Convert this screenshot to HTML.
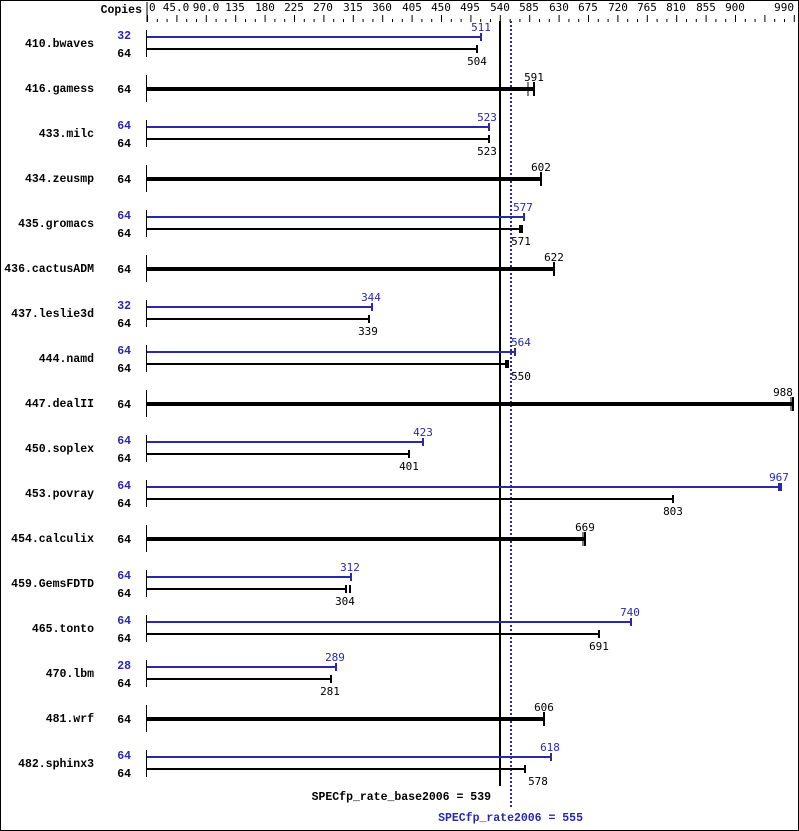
<!DOCTYPE html>
<html><head><meta charset="utf-8"><style>
html,body{margin:0;padding:0;background:#fff}
svg{display:block}
.b{font-family:"Liberation Mono",monospace;font-weight:bold;font-size:11.5px}
.n{font-family:"DejaVu Sans Mono","Liberation Mono",monospace;font-size:11px}
</style></head><body>
<svg width="799" height="831" xmlns="http://www.w3.org/2000/svg">
<rect x="0.5" y="0.5" width="798" height="830" fill="#fff" stroke="#000"/>
<text class="b" x="142" y="13" text-anchor="end">Copies</text>
<g id="axis" stroke="#000" stroke-width="1">
<line x1="147" y1="2" x2="147" y2="22"/>
</g>
<g stroke="#000" stroke-width="1" id="ticks"></g>
<g class="n" font-size="10.5" text-anchor="middle">
<text x="149" y="11" text-anchor="start">0</text>
<text x="176" y="11">45.0</text><text x="206" y="11">90.0</text><text x="235" y="11">135</text>
<text x="265" y="11">180</text><text x="294" y="11">225</text><text x="323" y="11">270</text>
<text x="353" y="11">315</text><text x="382" y="11">360</text><text x="412" y="11">405</text>
<text x="441" y="11">450</text><text x="470" y="11">495</text><text x="500" y="11">540</text>
<text x="529" y="11">585</text><text x="559" y="11">630</text><text x="588" y="11">675</text>
<text x="618" y="11">720</text><text x="647" y="11">765</text><text x="676" y="11">810</text>
<text x="706" y="11">855</text><text x="735" y="11">900</text><text x="794" y="11" text-anchor="end">990</text>
</g>
<g stroke="#000" stroke-width="1">
<line x1="147.5" y1="15" x2="147.5" y2="22"/><line x1="157.3" y1="19" x2="157.3" y2="22"/><line x1="167.1" y1="19" x2="167.1" y2="22"/><line x1="176.9" y1="15" x2="176.9" y2="22"/><line x1="186.7" y1="19" x2="186.7" y2="22"/><line x1="196.5" y1="19" x2="196.5" y2="22"/><line x1="206.3" y1="15" x2="206.3" y2="22"/><line x1="216.1" y1="19" x2="216.1" y2="22"/><line x1="225.9" y1="19" x2="225.9" y2="22"/><line x1="235.7" y1="15" x2="235.7" y2="22"/><line x1="245.5" y1="19" x2="245.5" y2="22"/><line x1="255.3" y1="19" x2="255.3" y2="22"/><line x1="265.1" y1="15" x2="265.1" y2="22"/><line x1="274.9" y1="19" x2="274.9" y2="22"/><line x1="284.7" y1="19" x2="284.7" y2="22"/><line x1="294.5" y1="15" x2="294.5" y2="22"/><line x1="304.3" y1="19" x2="304.3" y2="22"/><line x1="314.1" y1="19" x2="314.1" y2="22"/><line x1="323.9" y1="15" x2="323.9" y2="22"/><line x1="333.7" y1="19" x2="333.7" y2="22"/><line x1="343.5" y1="19" x2="343.5" y2="22"/><line x1="353.3" y1="15" x2="353.3" y2="22"/><line x1="363.1" y1="19" x2="363.1" y2="22"/><line x1="372.9" y1="19" x2="372.9" y2="22"/><line x1="382.7" y1="15" x2="382.7" y2="22"/><line x1="392.5" y1="19" x2="392.5" y2="22"/><line x1="402.3" y1="19" x2="402.3" y2="22"/><line x1="412.1" y1="15" x2="412.1" y2="22"/><line x1="421.9" y1="19" x2="421.9" y2="22"/><line x1="431.7" y1="19" x2="431.7" y2="22"/><line x1="441.5" y1="15" x2="441.5" y2="22"/><line x1="451.3" y1="19" x2="451.3" y2="22"/><line x1="461.1" y1="19" x2="461.1" y2="22"/><line x1="470.9" y1="15" x2="470.9" y2="22"/><line x1="480.7" y1="19" x2="480.7" y2="22"/><line x1="490.5" y1="19" x2="490.5" y2="22"/><line x1="500.3" y1="15" x2="500.3" y2="22"/><line x1="510.1" y1="19" x2="510.1" y2="22"/><line x1="519.9" y1="19" x2="519.9" y2="22"/><line x1="529.7" y1="15" x2="529.7" y2="22"/><line x1="539.5" y1="19" x2="539.5" y2="22"/><line x1="549.3" y1="19" x2="549.3" y2="22"/><line x1="559.1" y1="15" x2="559.1" y2="22"/><line x1="568.9" y1="19" x2="568.9" y2="22"/><line x1="578.7" y1="19" x2="578.7" y2="22"/><line x1="588.5" y1="15" x2="588.5" y2="22"/><line x1="598.3" y1="19" x2="598.3" y2="22"/><line x1="608.1" y1="19" x2="608.1" y2="22"/><line x1="617.9" y1="15" x2="617.9" y2="22"/><line x1="627.7" y1="19" x2="627.7" y2="22"/><line x1="637.5" y1="19" x2="637.5" y2="22"/><line x1="647.3" y1="15" x2="647.3" y2="22"/><line x1="657.1" y1="19" x2="657.1" y2="22"/><line x1="666.9" y1="19" x2="666.9" y2="22"/><line x1="676.7" y1="15" x2="676.7" y2="22"/><line x1="686.5" y1="19" x2="686.5" y2="22"/><line x1="696.3" y1="19" x2="696.3" y2="22"/><line x1="706.1" y1="15" x2="706.1" y2="22"/><line x1="715.9" y1="19" x2="715.9" y2="22"/><line x1="725.7" y1="19" x2="725.7" y2="22"/><line x1="735.5" y1="15" x2="735.5" y2="22"/><line x1="745.3" y1="19" x2="745.3" y2="22"/><line x1="755.1" y1="19" x2="755.1" y2="22"/><line x1="764.9" y1="15" x2="764.9" y2="22"/><line x1="774.7" y1="19" x2="774.7" y2="22"/><line x1="784.5" y1="19" x2="784.5" y2="22"/><line x1="794.3" y1="15" x2="794.3" y2="22"/>
</g>

<!-- reference lines -->
<line x1="500" y1="21" x2="500" y2="786" stroke="#000" stroke-width="2"/>
<line x1="511" y1="21" x2="511" y2="808" stroke="#2a2aa8" stroke-width="2" stroke-dasharray="2,2"/>
<text class="b" x="491" y="800" text-anchor="end">SPECfp_rate_base2006 = 539</text>
<text class="b" x="583" y="821" text-anchor="end" fill="#2a2aa8">SPECfp_rate2006 = 555</text>

<g class="b" text-anchor="end">
<text x="94" y="47">410.bwaves</text>
<text x="94" y="92">416.gamess</text>
<text x="94" y="137">433.milc</text>
<text x="94" y="182">434.zeusmp</text>
<text x="94" y="227">435.gromacs</text>
<text x="94" y="272">436.cactusADM</text>
<text x="94" y="317">437.leslie3d</text>
<text x="94" y="362">444.namd</text>
<text x="94" y="407">447.dealII</text>
<text x="94" y="452">450.soplex</text>
<text x="94" y="497">453.povray</text>
<text x="94" y="542">454.calculix</text>
<text x="94" y="587">459.GemsFDTD</text>
<text x="94" y="632">465.tonto</text>
<text x="94" y="677">470.lbm</text>
<text x="94" y="722">481.wrf</text>
<text x="94" y="767">482.sphinx3</text>
</g>

<!-- copies -->
<g class="b" text-anchor="end">
<text x="131" y="39" fill="#2a2aa8">32</text><text x="131" y="57">64</text>
<text x="131" y="93">64</text>
<text x="131" y="129" fill="#2a2aa8">64</text><text x="131" y="147">64</text>
<text x="131" y="183">64</text>
<text x="131" y="219" fill="#2a2aa8">64</text><text x="131" y="237">64</text>
<text x="131" y="273">64</text>
<text x="131" y="309" fill="#2a2aa8">32</text><text x="131" y="327">64</text>
<text x="131" y="354" fill="#2a2aa8">64</text><text x="131" y="372">64</text>
<text x="131" y="408">64</text>
<text x="131" y="444" fill="#2a2aa8">64</text><text x="131" y="462">64</text>
<text x="131" y="489" fill="#2a2aa8">64</text><text x="131" y="507">64</text>
<text x="131" y="543">64</text>
<text x="131" y="579" fill="#2a2aa8">64</text><text x="131" y="597">64</text>
<text x="131" y="624" fill="#2a2aa8">64</text><text x="131" y="642">64</text>
<text x="131" y="669" fill="#2a2aa8">28</text><text x="131" y="687">64</text>
<text x="131" y="723">64</text>
<text x="131" y="759" fill="#2a2aa8">64</text><text x="131" y="777">64</text>
</g>

<!-- left segments -->
<g stroke="#000" stroke-width="1">
<line x1="146.5" y1="30" x2="146.5" y2="57"/>
<line x1="146.5" y1="75" x2="146.5" y2="102"/>
<line x1="146.5" y1="120" x2="146.5" y2="147"/>
<line x1="146.5" y1="165" x2="146.5" y2="192"/>
<line x1="146.5" y1="210" x2="146.5" y2="237"/>
<line x1="146.5" y1="255" x2="146.5" y2="282"/>
<line x1="146.5" y1="300" x2="146.5" y2="327"/>
<line x1="146.5" y1="345" x2="146.5" y2="372"/>
<line x1="146.5" y1="390" x2="146.5" y2="417"/>
<line x1="146.5" y1="435" x2="146.5" y2="462"/>
<line x1="146.5" y1="480" x2="146.5" y2="507"/>
<line x1="146.5" y1="525" x2="146.5" y2="552"/>
<line x1="146.5" y1="570" x2="146.5" y2="597"/>
<line x1="146.5" y1="615" x2="146.5" y2="642"/>
<line x1="146.5" y1="660" x2="146.5" y2="687"/>
<line x1="146.5" y1="705" x2="146.5" y2="732"/>
<line x1="146.5" y1="750" x2="146.5" y2="777"/>
</g>

<!-- blue bars -->
<g stroke="#2a2aa8" stroke-width="2">
<line x1="147" y1="37" x2="481" y2="37"/><line x1="481" y1="33" x2="481" y2="41"/>
<line x1="147" y1="127" x2="489" y2="127"/><line x1="489" y1="123" x2="489" y2="131"/>
<line x1="147" y1="217" x2="524" y2="217"/><line x1="524" y1="213" x2="524" y2="221"/>
<line x1="147" y1="307" x2="372" y2="307"/><line x1="372" y1="303" x2="372" y2="311"/>
<line x1="147" y1="352" x2="515" y2="352"/><line x1="515" y1="348" x2="515" y2="356"/>
<line x1="147" y1="442" x2="423" y2="442"/><line x1="423" y1="438" x2="423" y2="446"/>
<line x1="147" y1="487" x2="779" y2="487"/><line x1="779" y1="483" x2="779" y2="491"/><line x1="781" y1="483" x2="781" y2="491"/>
<line x1="147" y1="577" x2="351" y2="577"/><line x1="351" y1="573" x2="351" y2="581"/>
<line x1="147" y1="622" x2="631" y2="622"/><line x1="631" y1="618" x2="631" y2="626"/>
<line x1="147" y1="667" x2="336" y2="667"/><line x1="336" y1="663" x2="336" y2="671"/>
<line x1="147" y1="757" x2="551" y2="757"/><line x1="551" y1="753" x2="551" y2="761"/>
</g>
<!-- black thin bars -->
<g stroke="#000" stroke-width="2">
<line x1="147" y1="49" x2="477" y2="49"/><line x1="477" y1="45" x2="477" y2="53"/>
<line x1="147" y1="139" x2="489" y2="139"/><line x1="489" y1="135" x2="489" y2="143"/>
<line x1="147" y1="229" x2="520" y2="229"/><line x1="520" y1="225" x2="520" y2="233"/><line x1="522" y1="225" x2="522" y2="233"/>
<line x1="147" y1="319" x2="369" y2="319"/><line x1="369" y1="315" x2="369" y2="323"/>
<line x1="147" y1="364" x2="506" y2="364"/><line x1="506" y1="360" x2="506" y2="368"/><line x1="508" y1="360" x2="508" y2="368"/>
<line x1="147" y1="454" x2="409" y2="454"/><line x1="409" y1="450" x2="409" y2="458"/>
<line x1="147" y1="499" x2="673" y2="499"/><line x1="673" y1="495" x2="673" y2="503"/>
<line x1="147" y1="589" x2="346" y2="589"/><line x1="346" y1="585" x2="346" y2="593"/><line x1="350" y1="585" x2="350" y2="593"/>
<line x1="147" y1="634" x2="599" y2="634"/><line x1="599" y1="630" x2="599" y2="638"/>
<line x1="147" y1="679" x2="331" y2="679"/><line x1="331" y1="675" x2="331" y2="683"/>
<line x1="147" y1="769" x2="525" y2="769"/><line x1="525" y1="765" x2="525" y2="773"/>
</g>
<!-- thick single bars -->
<g stroke="#000">
<line x1="147" y1="89" x2="534" y2="89" stroke-width="4"/><line x1="534" y1="82" x2="534" y2="96" stroke-width="2"/><line x1="528" y1="82" x2="528" y2="96" stroke-width="1"/>
<line x1="147" y1="179" x2="541" y2="179" stroke-width="4"/><line x1="541" y1="172" x2="541" y2="186" stroke-width="2"/>
<line x1="147" y1="269" x2="554" y2="269" stroke-width="4"/><line x1="554" y1="262" x2="554" y2="276" stroke-width="2"/>
<line x1="147" y1="404" x2="793" y2="404" stroke-width="4"/><line x1="793" y1="397" x2="793" y2="411" stroke-width="2"/><line x1="791" y1="397" x2="791" y2="411" stroke-width="1"/>
<line x1="147" y1="539" x2="585" y2="539" stroke-width="4"/><line x1="585" y1="532" x2="585" y2="546" stroke-width="2"/><line x1="583" y1="532" x2="583" y2="546" stroke-width="1"/>
<line x1="147" y1="719" x2="544" y2="719" stroke-width="4"/><line x1="544" y1="712" x2="544" y2="726" stroke-width="2"/>
</g>

<!-- value labels -->
<g class="n" text-anchor="middle" fill="#2a2aa8">
<text x="481" y="31">511</text><text x="487" y="121">523</text><text x="523" y="211">577</text>
<text x="371" y="301">344</text><text x="521" y="346">564</text><text x="423" y="436">423</text>
<text x="779" y="481">967</text><text x="350" y="571">312</text><text x="630" y="616">740</text>
<text x="335" y="661">289</text><text x="550" y="751">618</text>
</g>
<g class="n" text-anchor="middle" fill="#000">
<text x="477" y="65">504</text><text x="534" y="81">591</text><text x="487" y="155">523</text>
<text x="541" y="171">602</text><text x="521" y="245">571</text><text x="554" y="261">622</text>
<text x="368" y="335">339</text><text x="521" y="380">550</text><text x="783" y="396">988</text>
<text x="409" y="470">401</text><text x="673" y="515">803</text><text x="585" y="531">669</text>
<text x="345" y="605">304</text><text x="599" y="650">691</text><text x="330" y="695">281</text>
<text x="544" y="711">606</text><text x="538" y="785">578</text>
</g>
</svg>
</body></html>
